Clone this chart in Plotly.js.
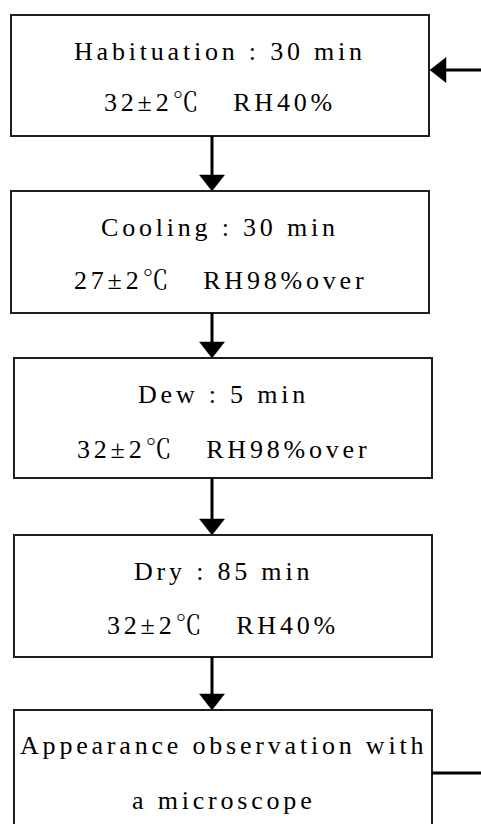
<!DOCTYPE html>
<html>
<head>
<meta charset="utf-8">
<script src="https://cdn.plot.ly/plotly-3.0.1.min.js"></script>
<style>
  html, body { margin: 0; padding: 0; background: #fff; }
  #chart { width: 481px; height: 824px; }
  text.annotation-text { font-family: 'Liberation Serif', 'Noto Serif CJK JP', 'Noto Sans CJK JP', serif !important; letter-spacing: 3.8px; }
</style>
</head>
<body>
<div id="chart"></div>
<script>
// ---- data (text content of the flow chart) ----
const stepNames = ["Habituation : 30 min", "Cooling : 30 min", "Dew : 5 min", "Dry : 85 min", "Appearance observation with"];
const stepConditions = ["32±2℃\u00A0\u00A0\u00A0RH40%", "27±2℃\u00A0\u00A0\u00A0RH98%over", "32±2℃\u00A0\u00A0\u00A0RH98%over", "32±2℃\u00A0\u00A0\u00A0RH40%", "a microscope"];

// ---- layout geometry (positions / styles) ----
const W = 481, H = 824;
const boxX0 = [11, 11, 14, 14, 14];
const boxX1 = [429, 429, 432, 432, 432];
const boxY0 = [15, 191, 358, 535, 710];
const boxY1 = [136, 313, 478, 657, 832];
const line1Y = [51, 227, 394, 571, 745];
const line2Y = [102, 280, 449, 625, 800];
const arrowX = 212;
const headLen = 16, headHalf = 12.5;
const loopInY = 70, loopOutY = 773;

function textFont() { return { family: "Liberation Serif, Noto Serif CJK JP, serif", size: 26, color: "#000" }; }
const BORDER = { color: "#1e1e1e", width: 2 };
const ARROW = { color: "#000", width: 3 };

const shapes = [];
const annotations = [];

for (let i = 0; i < stepNames.length; i++) {
  shapes.push({ type: "rect", xref: "x", yref: "y", x0: boxX0[i], x1: boxX1[i], y0: boxY0[i], y1: boxY1[i],
                line: { color: BORDER.color, width: BORDER.width }, fillcolor: "rgba(0,0,0,0)" });
  const cx = (boxX0[i] + boxX1[i]) / 2;
  annotations.push({ x: cx, y: line1Y[i], xref: "x", yref: "y", text: stepNames[i], showarrow: false,
                     xanchor: "center", yanchor: "middle", font: textFont() });
  annotations.push({ x: cx, y: line2Y[i], xref: "x", yref: "y", text: stepConditions[i], showarrow: false,
                     xanchor: "center", yanchor: "middle", font: textFont() });
  if (i < stepNames.length - 1) {
    const yStart = boxY1[i], yTip = boxY0[i + 1];
    shapes.push({ type: "line", xref: "x", yref: "y", x0: arrowX, x1: arrowX, y0: yStart, y1: yTip - headLen + 1,
                  line: { color: ARROW.color, width: ARROW.width } });
    shapes.push({ type: "path", xref: "x", yref: "y",
                  path: `M ${arrowX - headHalf} ${yTip - headLen} L ${arrowX + headHalf} ${yTip - headLen} L ${arrowX} ${yTip} Z`,
                  fillcolor: "#000", line: { color: "#000", width: 0.5 } });
  }
}

// loop-back arrow into first box (from right edge)
const tipX = boxX1[0] + 1;
shapes.push({ type: "line", xref: "x", yref: "y", x0: W + 2, x1: tipX + headLen - 1, y0: loopInY, y1: loopInY,
              line: { color: ARROW.color, width: ARROW.width } });
shapes.push({ type: "path", xref: "x", yref: "y",
              path: `M ${tipX + headLen} ${loopInY - headHalf} L ${tipX + headLen} ${loopInY + headHalf} L ${tipX} ${loopInY} Z`,
              fillcolor: "#000", line: { color: "#000", width: 0.5 } });
// line leaving last box to the right
shapes.push({ type: "line", xref: "x", yref: "y", x0: boxX1[4], x1: W + 2, y0: loopOutY, y1: loopOutY,
              line: { color: ARROW.color, width: ARROW.width } });

const layout = {
  width: W, height: H,
  margin: { l: 0, r: 0, t: 0, b: 0, pad: 0 },
  paper_bgcolor: "#fff", plot_bgcolor: "#fff",
  font: { family: "Liberation Serif, Noto Serif CJK JP, serif" },
  xaxis: { range: [0, W], visible: false, fixedrange: true },
  yaxis: { range: [H, 0], visible: false, fixedrange: true },
  showlegend: false,
  shapes: shapes,
  annotations: annotations
};

Plotly.newPlot("chart", [], layout, { displayModeBar: false, staticPlot: true });
</script>
</body>
</html>
